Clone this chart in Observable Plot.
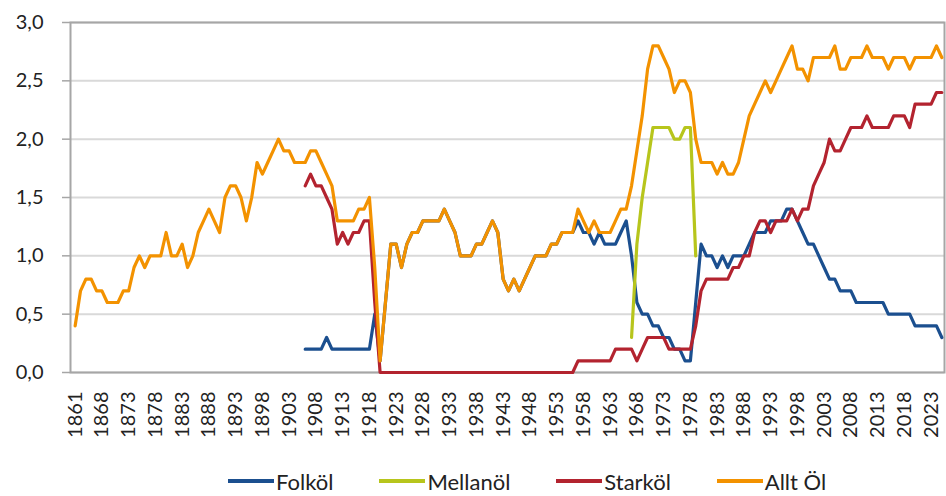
<!DOCTYPE html>
<html>
<head>
<meta charset="utf-8">
<script src="https://cdn.jsdelivr.net/npm/d3@7"></script>
<script src="https://cdn.jsdelivr.net/npm/@observablehq/plot@0.6"></script>
<style>
  html, body { margin: 0; padding: 0; background: #fff; }
  body { width: 946px; height: 496px; overflow: hidden; font-family: Lato, "Open Sans", sans-serif; }
  #legend { display: flex; align-items: center; height: 28px; margin-top: 12px; padding-left: 228px; font-size: 22px; color: #222; }
  .item { display: flex; align-items: center; margin-right: 46px; }
  .sw { width: 46px; height: 4px; margin-right: 2px; }
</style>
</head>
<body>
<div id="chart"></div>
<div id="legend"></div>
<script>
// Categories (Excel category axis; 1862–1863 not present in the source series)
const years = [1861,
  1864,1865,1866,1867,1868,1869,1870,1871,1872,1873,1874,1875,1876,1877,1878,1879,1880,1881,1882,1883,
  1884,1885,1886,1887,1888,1889,1890,1891,1892,1893,1894,1895,1896,1897,1898,1899,1900,1901,1902,1903,
  1904,1905,1906,1907,1908,1909,1910,1911,1912,1913,1914,1915,1916,1917,1918,1919,1920,1921,1922,1923,
  1924,1925,1926,1927,1928,1929,1930,1931,1932,1933,1934,1935,1936,1937,1938,1939,1940,1941,1942,1943,
  1944,1945,1946,1947,1948,1949,1950,1951,1952,1953,1954,1955,1956,1957,1958,1959,1960,1961,1962,1963,
  1964,1965,1966,1967,1968,1969,1970,1971,1972,1973,1974,1975,1976,1977,1978,1979,1980,1981,1982,1983,
  1984,1985,1986,1987,1988,1989,1990,1991,1992,1993,1994,1995,1996,1997,1998,1999,2000,2001,2002,2003,
  2004,2005,2006,2007,2008,2009,2010,2011,2012,2013,2014,2015,2016,2017,2018,2019,2020,2021,2022,2023,
  2024,2025];

const tickYears = [1861,1868,1873,1878,1883,1888,1893,1898,1903,1908,1913,1918,1923,1928,1933,1938,1943,
  1948,1953,1958,1963,1968,1973,1978,1983,1988,1993,1998,2003,2008,2013,2018,2023];

const yTicks = [0, 0.5, 1, 1.5, 2, 2.5, 3];

const seriesNames = ["Folköl", "Mellanöl", "Starköl", "Allt Öl"];
const seriesColors = ["#1b4f8f", "#b7c51c", "#b3232f", "#f39200"];

const N = null;
const folkol = [
  N,N,N,N,N,N,N,N,N,N,
  N,N,N,N,N,N,N,N,N,N,
  N,N,N,N,N,N,N,N,N,N,
  N,N,N,N,N,N,N,N,N,N,
  N,N,N,0.2,0.2,0.2,0.2,0.3,0.2,0.2,
  0.2,0.2,0.2,0.2,0.2,0.2,0.5,0.1,0.6,1.1,
  1.1,0.9,1.1,1.2,1.2,1.3,1.3,1.3,1.3,1.4,
  1.3,1.2,1.0,1.0,1.0,1.1,1.1,1.2,1.3,1.2,
  0.8,0.7,0.8,0.7,0.8,0.9,1.0,1.0,1.0,1.1,
  1.1,1.2,1.2,1.2,1.3,1.2,1.2,1.1,1.2,1.1,
  1.1,1.1,1.2,1.3,1.0,0.6,0.5,0.5,0.4,0.4,
  0.3,0.3,0.2,0.2,0.1,0.1,0.6,1.1,1.0,1.0,
  0.9,1.0,0.9,1.0,1.0,1.0,1.1,1.2,1.2,1.2,
  1.3,1.3,1.3,1.4,1.4,1.3,1.2,1.1,1.1,1.0,
  0.9,0.8,0.8,0.7,0.7,0.7,0.6,0.6,0.6,0.6,
  0.6,0.6,0.5,0.5,0.5,0.5,0.5,0.4,0.4,0.4,
  0.4,0.4,0.3];

const mellanol = [
  N,N,N,N,N,N,N,N,N,N,
  N,N,N,N,N,N,N,N,N,N,
  N,N,N,N,N,N,N,N,N,N,
  N,N,N,N,N,N,N,N,N,N,
  N,N,N,N,N,N,N,N,N,N,
  N,N,N,N,N,N,N,N,N,N,
  N,N,N,N,N,N,N,N,N,N,
  N,N,N,N,N,N,N,N,N,N,
  N,N,N,N,N,N,N,N,N,N,
  N,N,N,N,N,N,N,N,N,N,
  N,N,N,N,0.3,1.1,1.5,1.8,2.1,2.1,
  2.1,2.1,2.0,2.0,2.1,2.1,1.0,N,N,N,
  N,N,N,N,N,N,N,N,N,N,
  N,N,N,N,N,N,N,N,N,N,
  N,N,N,N,N,N,N,N,N,N,
  N,N,N,N,N,N,N,N,N,N,
  N,N,N];

const starkol = [
  N,N,N,N,N,N,N,N,N,N,
  N,N,N,N,N,N,N,N,N,N,
  N,N,N,N,N,N,N,N,N,N,
  N,N,N,N,N,N,N,N,N,N,
  N,N,N,1.6,1.7,1.6,1.6,1.5,1.4,1.1,
  1.2,1.1,1.2,1.2,1.3,1.3,0.6,0,0,0,
  0,0,0,0,0,0,0,0,0,0,
  0,0,0,0,0,0,0,0,0,0,
  0,0,0,0,0,0,0,0,0,0,
  0,0,0,0,0.1,0.1,0.1,0.1,0.1,0.1,
  0.1,0.2,0.2,0.2,0.2,0.1,0.2,0.3,0.3,0.3,
  0.3,0.2,0.2,0.2,0.2,0.2,0.4,0.7,0.8,0.8,
  0.8,0.8,0.8,0.9,0.9,1.0,1.0,1.2,1.3,1.3,
  1.2,1.3,1.3,1.3,1.4,1.3,1.4,1.4,1.6,1.7,
  1.8,2.0,1.9,1.9,2.0,2.1,2.1,2.1,2.2,2.1,
  2.1,2.1,2.1,2.2,2.2,2.2,2.1,2.3,2.3,2.3,
  2.3,2.4,2.4];

const alltOl = [
  0.4,0.7,0.8,0.8,0.7,0.7,0.6,0.6,0.6,0.7,
  0.7,0.9,1.0,0.9,1.0,1.0,1.0,1.2,1.0,1.0,
  1.1,0.9,1.0,1.2,1.3,1.4,1.3,1.2,1.5,1.6,
  1.6,1.5,1.3,1.5,1.8,1.7,1.8,1.9,2.0,1.9,
  1.9,1.8,1.8,1.8,1.9,1.9,1.8,1.7,1.6,1.3,
  1.3,1.3,1.3,1.4,1.4,1.5,0.9,0.1,0.6,1.1,
  1.1,0.9,1.1,1.2,1.2,1.3,1.3,1.3,1.3,1.4,
  1.3,1.2,1.0,1.0,1.0,1.1,1.1,1.2,1.3,1.2,
  0.8,0.7,0.8,0.7,0.8,0.9,1.0,1.0,1.0,1.1,
  1.1,1.2,1.2,1.2,1.4,1.3,1.2,1.3,1.2,1.2,
  1.2,1.3,1.4,1.4,1.6,1.9,2.2,2.6,2.8,2.8,
  2.7,2.6,2.4,2.5,2.5,2.4,2.0,1.8,1.8,1.8,
  1.7,1.8,1.7,1.7,1.8,2.0,2.2,2.3,2.4,2.5,
  2.4,2.5,2.6,2.7,2.8,2.6,2.6,2.5,2.7,2.7,
  2.7,2.7,2.8,2.6,2.6,2.7,2.7,2.7,2.8,2.7,
  2.7,2.7,2.6,2.7,2.7,2.7,2.6,2.7,2.7,2.7,
  2.7,2.8,2.7];

const seriesValues = [folkol, mellanol, starkol, alltOl];

const rows = [];
seriesValues.forEach((arr, s) => {
  arr.forEach((v, i) => {
    if (v != null && i < years.length) rows.push({year: years[i], value: v, series: seriesNames[s]});
  });
});

const fmt = d => d.toFixed(1).replace(".", ",");

const chart = Plot.plot({
  width: 946,
  height: 455,
  marginLeft: 70,
  marginRight: 2,
  marginTop: 22,
  marginBottom: 83,
  style: {fontFamily: "Lato, 'Open Sans', sans-serif", fontSize: "20px", color: "#222", background: "#fff"},
  x: {type: "point", domain: years, range: [72, 944]},
  y: {domain: [0, 3]},
  color: {domain: seriesNames, range: seriesColors},
  marks: [
    Plot.gridY(yTicks, {stroke: "#d9d9d9", strokeOpacity: 1, strokeWidth: 2}),
    Plot.frame({stroke: "#a6a6a6", strokeWidth: 2}),
    Plot.axisY(yTicks, {tickSize: 8, tickPadding: 19, tickFormat: fmt, fontSize: 20, stroke: "#a6a6a6", strokeWidth: 1.5, fill: "#222", label: null}),
    Plot.axisX(tickYears, {tickSize: 0, tickRotate: -90, tickPadding: 19, tickFormat: d => String(d), fontSize: 20, fill: "#222", label: null}),
    Plot.line(rows, {x: "year", y: "value", z: "series", stroke: "series", strokeWidth: 3.2, strokeLinejoin: "round", strokeLinecap: "round", curve: "linear"})
  ]
});
document.getElementById("chart").appendChild(chart);

const legend = document.getElementById("legend");
seriesNames.forEach((name, i) => {
  const it = document.createElement("div");
  it.className = "item";
  const sw = document.createElement("span");
  sw.className = "sw";
  sw.style.background = seriesColors[i];
  const lab = document.createElement("span");
  lab.textContent = name;
  it.appendChild(sw);
  it.appendChild(lab);
  legend.appendChild(it);
});
</script>
</body>
</html>
